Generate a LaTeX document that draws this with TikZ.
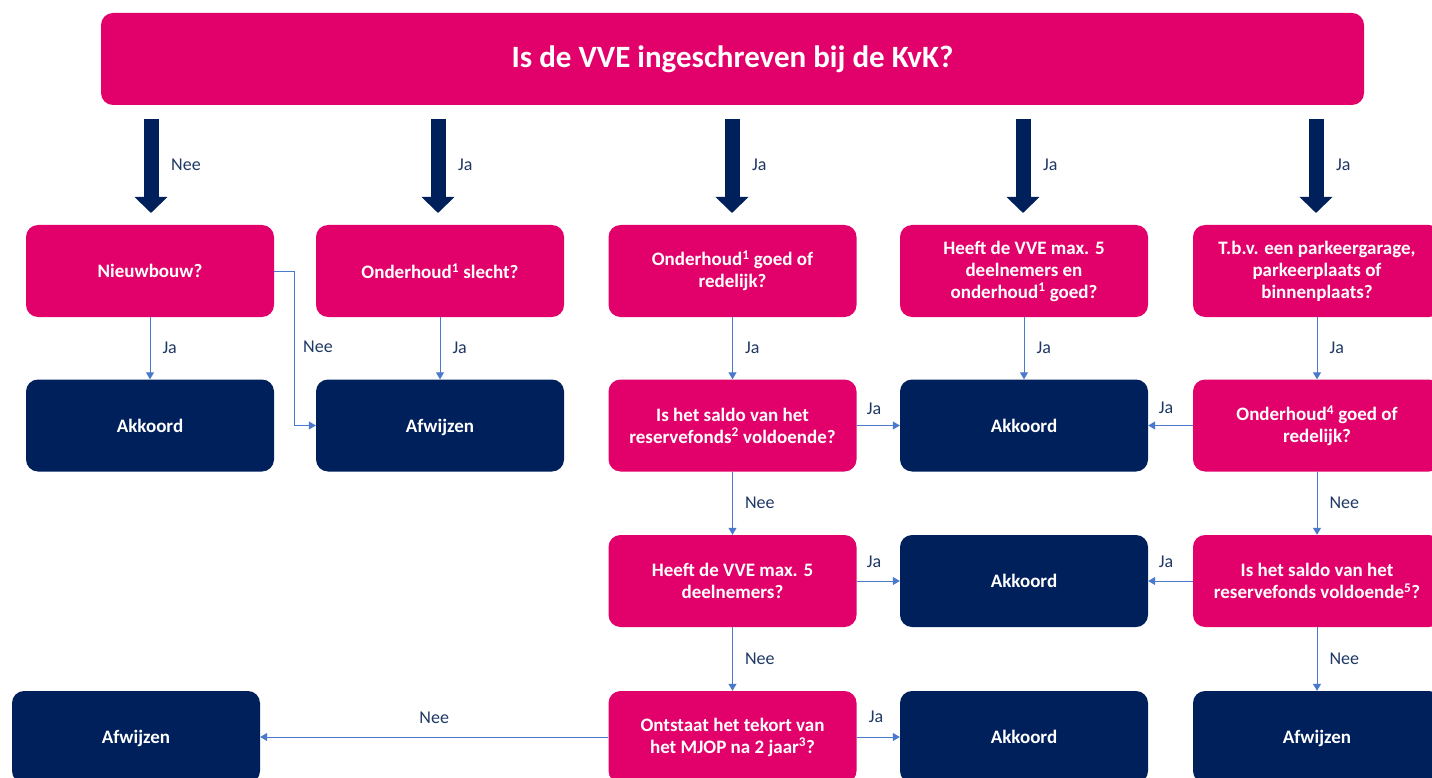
\documentclass[tikz,border=0pt]{standalone}
\usepackage{fontspec}
\setmainfont{Carlito}
\usetikzlibrary{arrows.meta}
\definecolor{vpink}{HTML}{E2006A}
\definecolor{vnavy}{HTML}{00205B}
\definecolor{vblue}{HTML}{4A78CC}
\definecolor{vlabel}{HTML}{1F3864}
\tikzset{
  box/.style={rounded corners=12pt, minimum width=248pt, minimum height=92pt, text=white,
    align=center, inner sep=2pt, font=\bfseries\fontsize{19}{22}\selectfont},
  pinkbox/.style={box, fill=vpink},
  navybox/.style={box, fill=vnavy, text height=15pt, text depth=2pt},
  bigarrow/.style={draw=vnavy, line width=15pt, -{Triangle[width=32pt,length=16pt]}},
  conn/.style={draw=vblue, line width=1pt, -{Triangle[width=8pt,length=7pt]}},
  lbl/.style={text=vlabel, font=\fontsize{18}{20}\selectfont, inner sep=0pt},
}
\begin{document}
\begin{tikzpicture}[x=1pt,y=-1pt]
\useasboundingbox (0,0) rectangle (1432,778);
\clip (0,0) rectangle (1432,778);
\fill[white] (0,0) rectangle (1432,778);

\node[pinkbox, minimum width=1263pt, font=\bfseries\fontsize{31}{36}\selectfont] (top) at (732.5,59) {Is de VVE ingeschreven bij de KvK?};

% row 1
\node[pinkbox] (nb) at (150,271) {Nieuwbouw?};
\node[pinkbox] (os) at (440,271) {Onderhoud\textsuperscript{1} slecht?};
\node[pinkbox] (og) at (732.5,271) {Onderhoud\textsuperscript{1} goed of\\redelijk?};
\node[pinkbox] (hv) at (1024,271) {Heeft de VVE max. 5\\deelnemers en\\onderhoud\textsuperscript{1} goed?};
\node[pinkbox] (tbv) at (1317,271) {T.b.v. een parkeergarage,\\parkeerplaats of\\binnenplaats?};

% row 2
\node[navybox] (ak1) at (150,425.5) {Akkoord};
\node[navybox] (af1) at (440,425.5) {Afwijzen};
\node[pinkbox] (rs) at (732.5,425.5) {Is het saldo van het\\reservefonds\textsuperscript{2} voldoende?};
\node[navybox] (ak2) at (1024,425.5) {Akkoord};
\node[pinkbox] (o4) at (1317,425.5) {Onderhoud\textsuperscript{4} goed of\\redelijk?};

% row 3
\node[pinkbox] (h5) at (732.5,581) {Heeft de VVE max. 5\\deelnemers?};
\node[navybox] (ak3) at (1024,581) {Akkoord};
\node[pinkbox] (r5) at (1317,581) {Is het saldo van het\\reservefonds voldoende\textsuperscript{5}?};

% row 4
\node[navybox] (af2) at (136,737) {Afwijzen};
\node[pinkbox] (mj) at (732.5,737) {Ontstaat het tekort van\\het MJOP na 2 jaar\textsuperscript{3}?};
\node[navybox] (ak4) at (1024,737) {Akkoord};
\node[navybox] (af3) at (1317,737) {Afwijzen};

% big arrows
\foreach \n/\l/\x in {nb/Nee/151, os/Ja/438, og/Ja/732, hv/Ja/1023, tbv/Ja/1316}{
  \draw[bigarrow] (\x,119) -- (\x,213);
  \node[lbl, anchor=west] at (\x+20,165) {\l};
}

% thin connectors
\draw[conn] (nb) -- (ak1) node[lbl, midway, anchor=west, xshift=12pt] {Ja};
\coordinate (nbk) at (294,271);
\draw[conn] (nb.east) -- (nbk) |- (af1.west);
\node[lbl, anchor=west] at (303,347) {Nee};
\draw[conn] (os) -- (af1) node[lbl, midway, anchor=west, xshift=12pt] {Ja};
\draw[conn] (og) -- (rs) node[lbl, midway, anchor=west, xshift=12pt] {Ja};
\draw[conn] (hv) -- (ak2) node[lbl, midway, anchor=west, xshift=12pt] {Ja};
\draw[conn] (tbv) -- (o4) node[lbl, midway, anchor=west, xshift=12pt] {Ja};

\draw[conn] (rs) -- (ak2) node[lbl, pos=0.4, yshift=17pt] {Ja};
\draw[conn] (o4) -- (ak2) node[lbl, pos=0.6, yshift=18pt] {Ja};
\draw[conn] (rs) -- (h5) node[lbl, midway, anchor=west, xshift=12pt] {Nee};
\draw[conn] (o4) -- (r5) node[lbl, midway, anchor=west, xshift=12pt] {Nee};

\draw[conn] (h5) -- (ak3) node[lbl, pos=0.4, yshift=19pt] {Ja};
\draw[conn] (r5) -- (ak3) node[lbl, pos=0.6, yshift=19pt] {Ja};
\draw[conn] (h5) -- (mj) node[lbl, midway, anchor=west, xshift=12pt] {Nee};
\draw[conn] (r5) -- (af3) node[lbl, midway, anchor=west, xshift=12pt] {Nee};

\draw[conn] (mj) -- (af2) node[lbl, midway, yshift=19pt] {Nee};
\draw[conn] (mj) -- (ak4) node[lbl, pos=0.45, yshift=20pt] {Ja};
\end{tikzpicture}
\end{document}
